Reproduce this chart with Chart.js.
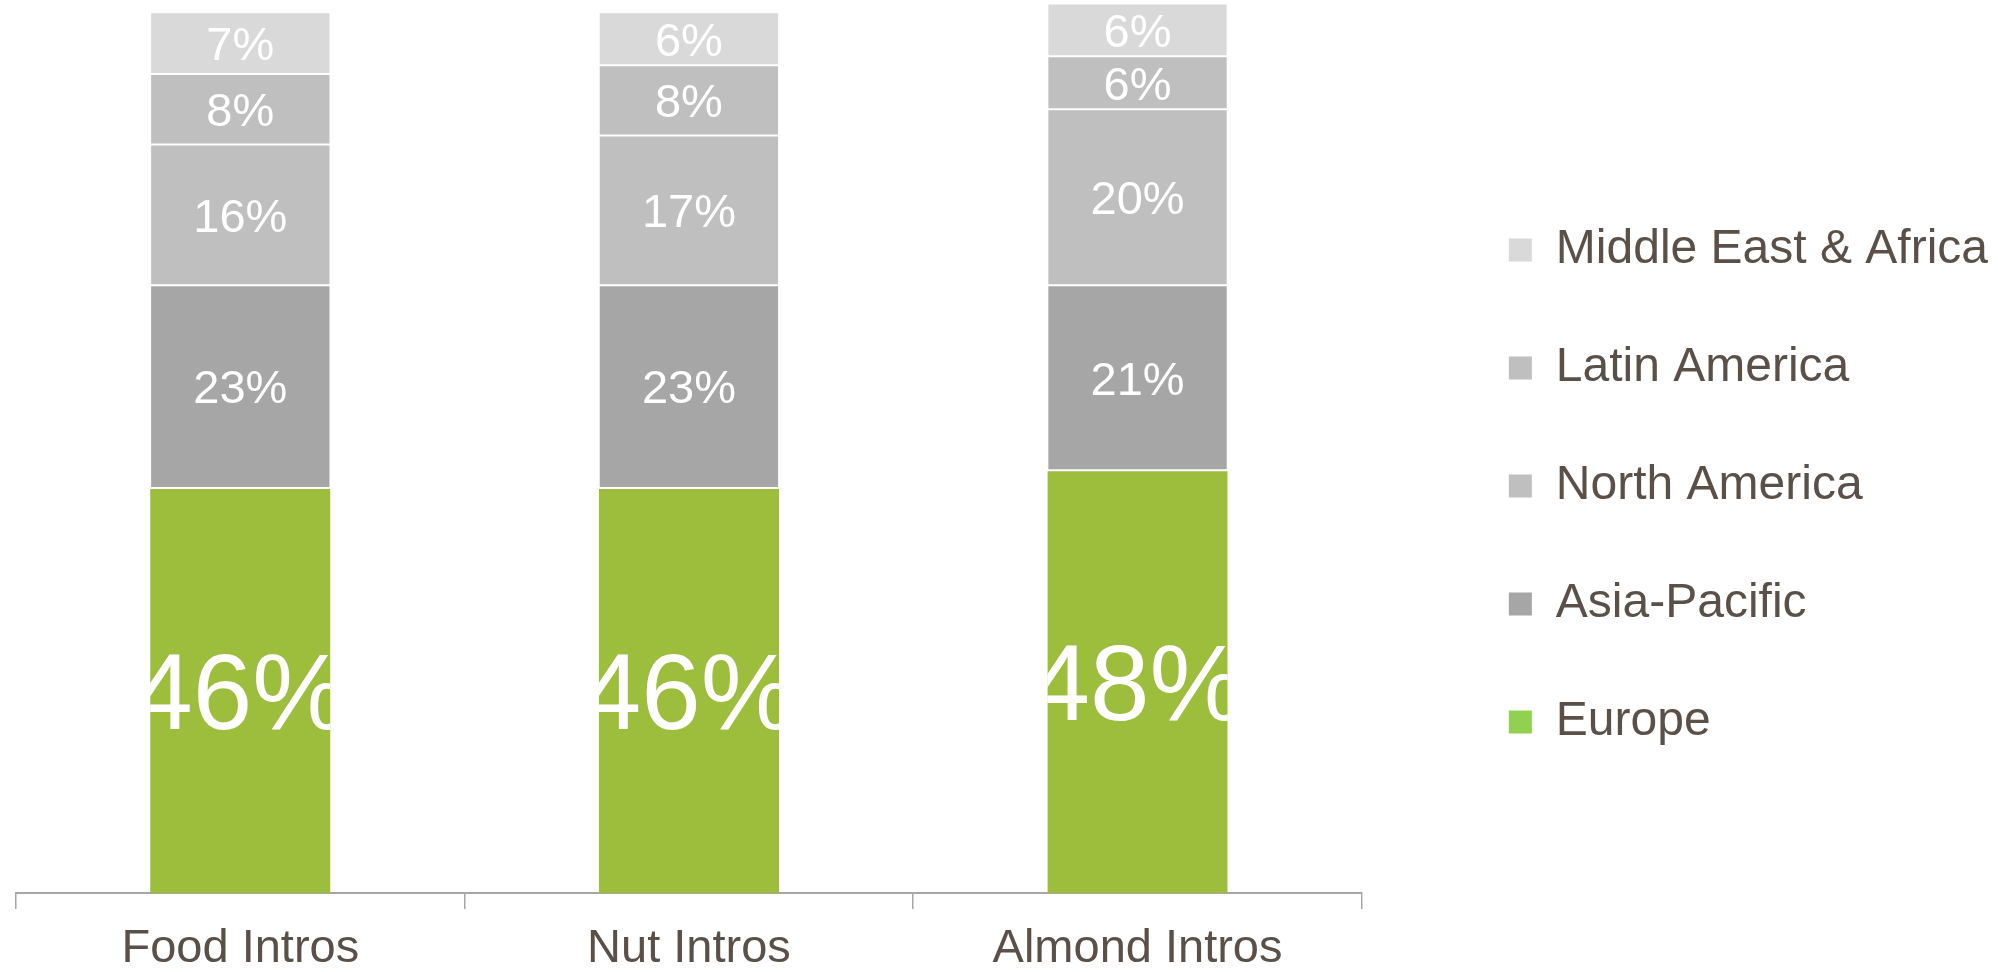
<!DOCTYPE html>
<html>
<head>
<meta charset="utf-8">
<title>Intros by region</title>
<script src="https://cdn.jsdelivr.net/npm/chart.js@4/dist/chart.umd.min.js"></script>
<style>
  html, body { margin: 0; padding: 0; background: #fff; }
  #wrap { width: 1998px; height: 972px; }
</style>
</head>
<body>
<div id="wrap"><canvas id="canvas"></canvas></div>
<script>
// data
const categories = ["Food Intros", "Nut Intros", "Almond Intros"];
const europe = [46, 46, 48];
const asiaPacific = [23, 23, 21];
const northAmerica = [16, 17, 20];
const latinAmerica = [8, 8, 6];
const middleEastAfrica = [7, 6, 6];

const textColor = "#5A5048";
const axisColor = "#A6A6A6";
const fontFamily = "'Liberation Sans', Arial, sans-serif";

// labels inside the bars, clipped to each segment, digits centred
const barLabels = {
  id: "barLabels",
  afterDatasetsDraw(chart) {
    const ctx = chart.ctx;
    chart.data.datasets.forEach((ds, i) => {
      const meta = chart.getDatasetMeta(i);
      meta.data.forEach((bar, j) => {
        const p = bar.getProps(["x", "y", "base", "width"], true);
        const top = Math.min(p.y, p.base);
        const h = Math.abs(p.base - p.y);
        const size = i === 0 ? 107 : 47;
        ctx.save();
        ctx.beginPath();
        ctx.rect(p.x - p.width / 2, top, p.width, h);
        ctx.clip();
        ctx.fillStyle = "#ffffff";
        ctx.textAlign = "center";
        ctx.textBaseline = "alphabetic";
        ctx.font = size + "px " + fontFamily;
        ctx.fillText(ds.data[j] + "%", p.x, top + h / 2 + size * 0.358);
        ctx.restore();
      });
    });
  },
};

const config = {
  type: "bar",
  data: {
    labels: categories,
    datasets: [
      {
        label: "Europe",
        data: europe,
        backgroundColor: "#9DBD3D",
        borderColor: "#ffffff",
        borderWidth: { top: 1, left: 0, right: 0, bottom: 0 },
        borderSkipped: false,
      },
      {
        label: "Asia-Pacific",
        data: asiaPacific,
        backgroundColor: "#A6A6A6",
        borderColor: "#ffffff",
        borderWidth: 1,
        borderSkipped: false,
      },
      {
        label: "North America",
        data: northAmerica,
        backgroundColor: "#BFBFBF",
        borderColor: "#ffffff",
        borderWidth: 1,
        borderSkipped: false,
      },
      {
        label: "Latin America",
        data: latinAmerica,
        backgroundColor: "#BFBFBF",
        borderColor: "#ffffff",
        borderWidth: 1,
        borderSkipped: false,
      },
      {
        label: "Middle East & Africa",
        data: middleEastAfrica,
        backgroundColor: "#D9D9D9",
        borderColor: "#ffffff",
        borderWidth: 1,
        borderSkipped: false,
      },
    ],
  },
  options: {
    responsive: true,
    maintainAspectRatio: false,
    animation: false,
    devicePixelRatio: 1,
    layout: { padding: { left: 16, right: 0, top: 0, bottom: 0 } },
    datasets: {
      bar: { barPercentage: 0.402, categoryPercentage: 1 },
    },
    scales: {
      x: {
        stacked: true,
        grid: {
          display: true,
          drawOnChartArea: false,
          drawTicks: true,
          tickLength: 16,
          color: axisColor,
          lineWidth: 1.5,
          offset: true,
        },
        border: { display: true, color: axisColor, width: 2 },
        ticks: {
          color: textColor,
          padding: 16.5,
          font: { family: fontFamily, size: 47, lineHeight: 1 },
        },
        afterFit(scale) {
          scale.height = 79;
        },
      },
      y: {
        stacked: true,
        display: false,
        min: 0,
        max: 101.4,
      },
      // empty right axis, only keeps a gap between plot and legend
      y2: {
        position: "right",
        display: true,
        grid: { display: false },
        border: { display: false },
        ticks: { display: false },
        afterFit(scale) {
          scale.width = 77;
        },
      },
    },
    plugins: {
      tooltip: { enabled: false },
      legend: {
        position: "right",
        reverse: true,
        maxWidth: 700,
        labels: {
          color: textColor,
          boxWidth: 23,
          boxHeight: 23,
          padding: 70,
          font: { family: fontFamily, size: 48 },
          generateLabels(chart) {
            const items = Chart.defaults.plugins.legend.labels.generateLabels(chart);
            return items.map((item) => {
              item.lineWidth = 0;
              if (item.text === "Europe") item.fillStyle = "#92D050";
              return item;
            });
          },
        },
      },
    },
  },
  plugins: [barLabels],
};

const myChart = new Chart(document.getElementById("canvas"), config);
</script>
</body>
</html>
